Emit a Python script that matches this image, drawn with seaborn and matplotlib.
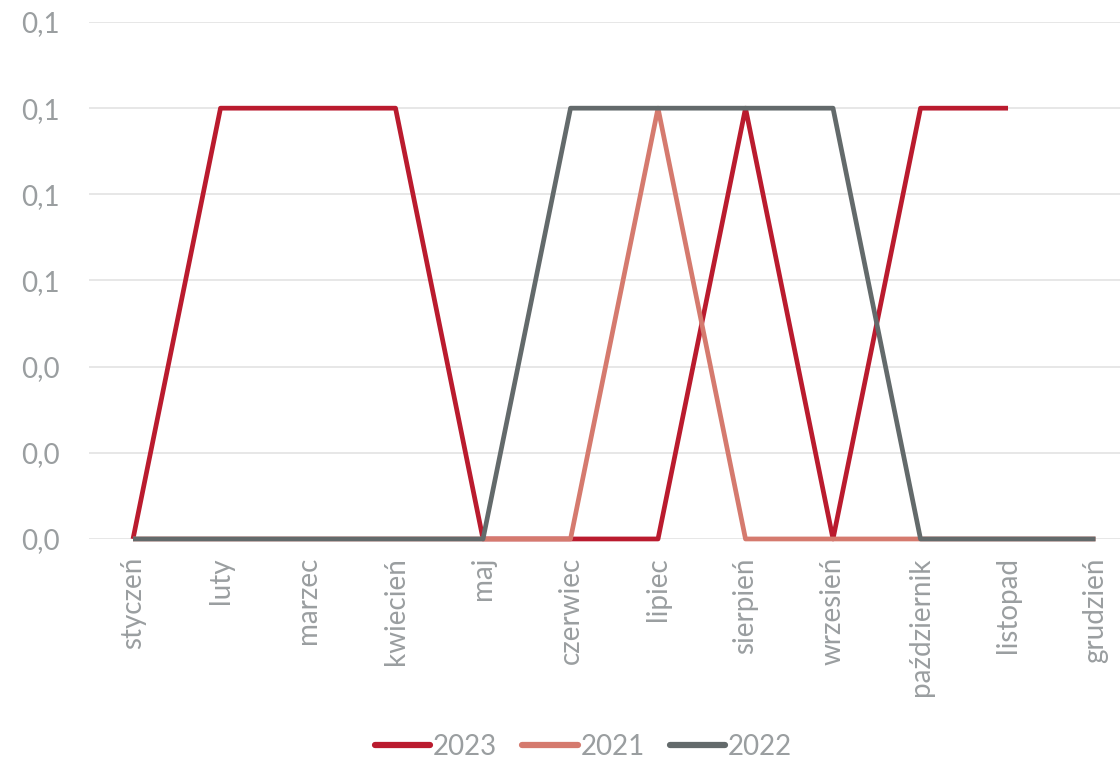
import numpy as np
import pandas as pd
import seaborn as sns
import matplotlib.pyplot as plt
from matplotlib.ticker import FuncFormatter

# months and series values
months = ["styczeń", "luty", "marzec", "kwiecień", "maj", "czerwiec",
          "lipiec", "sierpień", "wrzesień", "październik", "listopad", "grudzień"]
y2023 = [0.0, 0.1, 0.1, 0.1, 0.0, 0.0, 0.0, 0.1, 0.0, 0.1, 0.1, np.nan]
y2021 = [0.0, 0.0, 0.0, 0.0, 0.0, 0.0, 0.1, 0.0, 0.0, 0.0, 0.0, 0.0]
y2022 = [0.0, 0.0, 0.0, 0.0, 0.0, 0.1, 0.1, 0.1, 0.1, 0.0, 0.0, 0.0]
years = ["2023", "2021", "2022"]
colors = {"2023": "#BA1B2E", "2021": "#D57A6E", "2022": "#636A6B"}

rows = []
for name, vals in zip(years, [y2023, y2021, y2022]):
    for i, v in enumerate(vals):
        rows.append({"pos": i, "value": v, "rok": name})
df = pd.DataFrame(rows)

sns.set_style("white")
plt.rcParams['font.family'] = ['Lato', 'DejaVu Sans']

fig = plt.figure(figsize=(11.2, 7.62), dpi=100)
ax = fig.add_axes([0.0797, 0.2927, 0.9375, 0.6784])

sns.lineplot(data=df, x="pos", y="value", hue="rok", hue_order=years,
             palette=colors, linewidth=3.4, ax=ax, legend=False,
             solid_capstyle="butt", estimator=None)
for ln in ax.lines:
    ln.set_clip_on(False)

ax.set_xlim(-0.5, 11.5)
ax.set_ylim(0, 0.12)
ax.set_yticks(np.arange(0, 0.121, 0.02))
ax.yaxis.set_major_formatter(FuncFormatter(lambda v, p: f"{v:.1f}".replace(".", ",")))
ax.set_xticks(range(12))
ax.set_xticklabels(months, rotation=90)
ax.grid(axis="y", color="#E3E3E3", linewidth=1.2)
ax.set_axisbelow(True)
for s in ax.spines.values():
    s.set_visible(False)
ax.tick_params(axis="both", length=0, colors="#9A9EA0", labelsize=20)
ax.tick_params(axis="x", pad=13)
ax.tick_params(axis="y", pad=21)
ax.set_xlabel("")
ax.set_ylabel("")

handles = [plt.Line2D([], [], color=colors[y], linewidth=4.5, solid_capstyle="round") for y in years]
leg = fig.legend(handles, years, loc="lower center", ncol=3, frameon=False,
                 bbox_to_anchor=(0.521, -0.03), fontsize=20, handlelength=2.0,
                 handletextpad=0.1, columnspacing=0.9)
for t in leg.get_texts():
    t.set_color("#9A9EA0")

fig.savefig("out.png", dpi=100)
